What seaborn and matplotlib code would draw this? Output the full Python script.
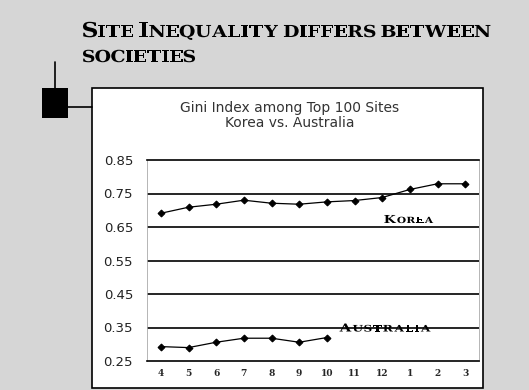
"""Gini index among top 100 sites, Korea vs. Australia (scanned slide look)."""

import matplotlib

matplotlib.use("Agg")
import matplotlib.pyplot as plt
import pandas as pd
import seaborn as sns
from matplotlib.font_manager import FontProperties
from matplotlib.lines import Line2D
from matplotlib.patches import PathPatch, Rectangle
from matplotlib.textpath import TextPath
from matplotlib.transforms import Affine2D, IdentityTransform

MONTHS: list[str] = ["4", "5", "6", "7", "8", "9", "10", "11", "12", "1", "2", "3"]
KOREA_GINI: list[float] = [0.691, 0.709, 0.718, 0.730, 0.721, 0.718, 0.725, 0.729, 0.738, 0.762, 0.779, 0.779]
AUSTRALIA_GINI: list[float] = [0.293, 0.290, 0.306, 0.318, 0.318, 0.306, 0.320]
Y_TICKS: list[float] = [0.25, 0.35, 0.45, 0.55, 0.65, 0.75, 0.85]

W, H = 529, 390
SERIF = FontProperties(family="DejaVu Serif", weight="bold")


def small_caps(fig, x, y, text, big, small, stretch=1.15, gap=1.0, space=8.0):
    """Pseudo small caps drawn as glyph paths; x, y in pixels from top-left, y is baseline."""
    cursor = x
    for ch in text:
        if ch == " ":
            cursor += space
            continue
        size = big if ch.isupper() else small
        path = TextPath((0, 0), ch.upper(), size=size, prop=SERIF)
        ext = path.get_extents()
        tr = Affine2D().translate(-ext.x0, 0).scale(stretch, 1).translate(cursor, H - y)
        fig.patches.append(PathPatch(path, transform=tr + IdentityTransform(),
                                     facecolor="black", edgecolor="none", zorder=10))
        cursor += ext.width * stretch + gap
    return cursor


def build_frame() -> pd.DataFrame:
    korea = pd.DataFrame({"idx": range(len(KOREA_GINI)), "gini": KOREA_GINI, "country": "Korea"})
    aus = pd.DataFrame({"idx": range(len(AUSTRALIA_GINI)), "gini": AUSTRALIA_GINI, "country": "Australia"})
    return pd.concat([korea, aus], ignore_index=True)


def main() -> None:
    sns.set_style("white")
    fig = plt.figure(figsize=(W / 100, H / 100), dpi=100)
    fig.patch.set_facecolor("#d6d6d6")

    # white chart panel
    fig.patches.append(Rectangle((92 / W, 1 - 388 / H), 391 / W, 300 / H,
                                 transform=fig.transFigure, facecolor="white",
                                 edgecolor="black", linewidth=1.2, zorder=-5))
    # bullet decoration
    fig.patches.append(Rectangle((42 / W, 1 - 118 / H), 26 / W, 30 / H,
                                 transform=fig.transFigure, facecolor="black", edgecolor="none",
                                 zorder=-4))
    fig.lines.append(Line2D([55 / W, 55 / W], [1 - 62 / H, 1 - 88 / H],
                            transform=fig.transFigure, color="black", lw=1.2, zorder=-4))
    fig.lines.append(Line2D([68 / W, 92 / W], [1 - 107 / H, 1 - 107 / H],
                            transform=fig.transFigure, color="black", lw=1.2, zorder=-4))

    ax = fig.add_axes((147 / W, 1 - 361 / H, 332 / W, 201 / H))
    ax.set_facecolor("white")
    ax.set_zorder(2)

    frame = build_frame()
    sns.lineplot(data=frame, x="idx", y="gini", hue="country",
                 palette={"Korea": "black", "Australia": "black"},
                 marker="D", markersize=3.5, markeredgecolor="black",
                 linewidth=0.9, legend=False, ax=ax)

    for y in Y_TICKS[1:-1]:
        ax.axhline(y, color="black", lw=1.2, zorder=1)

    ax.set_xlim(-0.5, len(MONTHS) - 0.5)
    ax.set_ylim(Y_TICKS[0], Y_TICKS[-1])
    ax.set_xticks(range(len(MONTHS)))
    ax.set_xticklabels(MONTHS, family="DejaVu Serif", fontweight="bold", fontsize=6.5)
    ax.set_yticks(Y_TICKS)
    ax.set_yticklabels([f"{v:.2f}" for v in Y_TICKS], fontsize=9.5, color="#222222")
    ax.tick_params(axis="y", length=0, pad=10)
    ax.tick_params(axis="x", length=3, direction="in", pad=6, width=0.8)
    ax.set_xlabel("")
    ax.set_ylabel("")

    for side in ["top", "bottom"]:
        ax.spines[side].set_color("black")
        ax.spines[side].set_linewidth(1.2)
    for side in ["left", "right"]:
        ax.spines[side].set_color("#aaaaaa")
        ax.spines[side].set_linewidth(0.6)

    # series labels, placed from data coordinates
    kx, ky = ax.transData.transform((8.08, 0.65))
    small_caps(fig, kx, H - ky - 4, "Korea", big=11, small=8.5, stretch=1.25, gap=1.2)
    axx, ayy = ax.transData.transform((6.46, 0.35))
    small_caps(fig, axx, H - ayy + 4, "Australia", big=11, small=9, stretch=1.35, gap=1.5)

    fig.text(290 / W, 1 - 108 / H, "Gini Index among Top 100 Sites", ha="center", va="center",
             fontsize=10, color="#333333")
    fig.text(290 / W, 1 - 123 / H, "Korea vs. Australia", ha="center", va="center",
             fontsize=10, color="#333333")

    small_caps(fig, 83, 37, "Site Inequality differs between", big=20.5, small=16.5, space=5)
    small_caps(fig, 83, 62, "societies", big=20.5, small=16.5, space=5)

    fig.savefig("out.png", dpi=100, facecolor=fig.get_facecolor())


if __name__ == "__main__":
    main()
